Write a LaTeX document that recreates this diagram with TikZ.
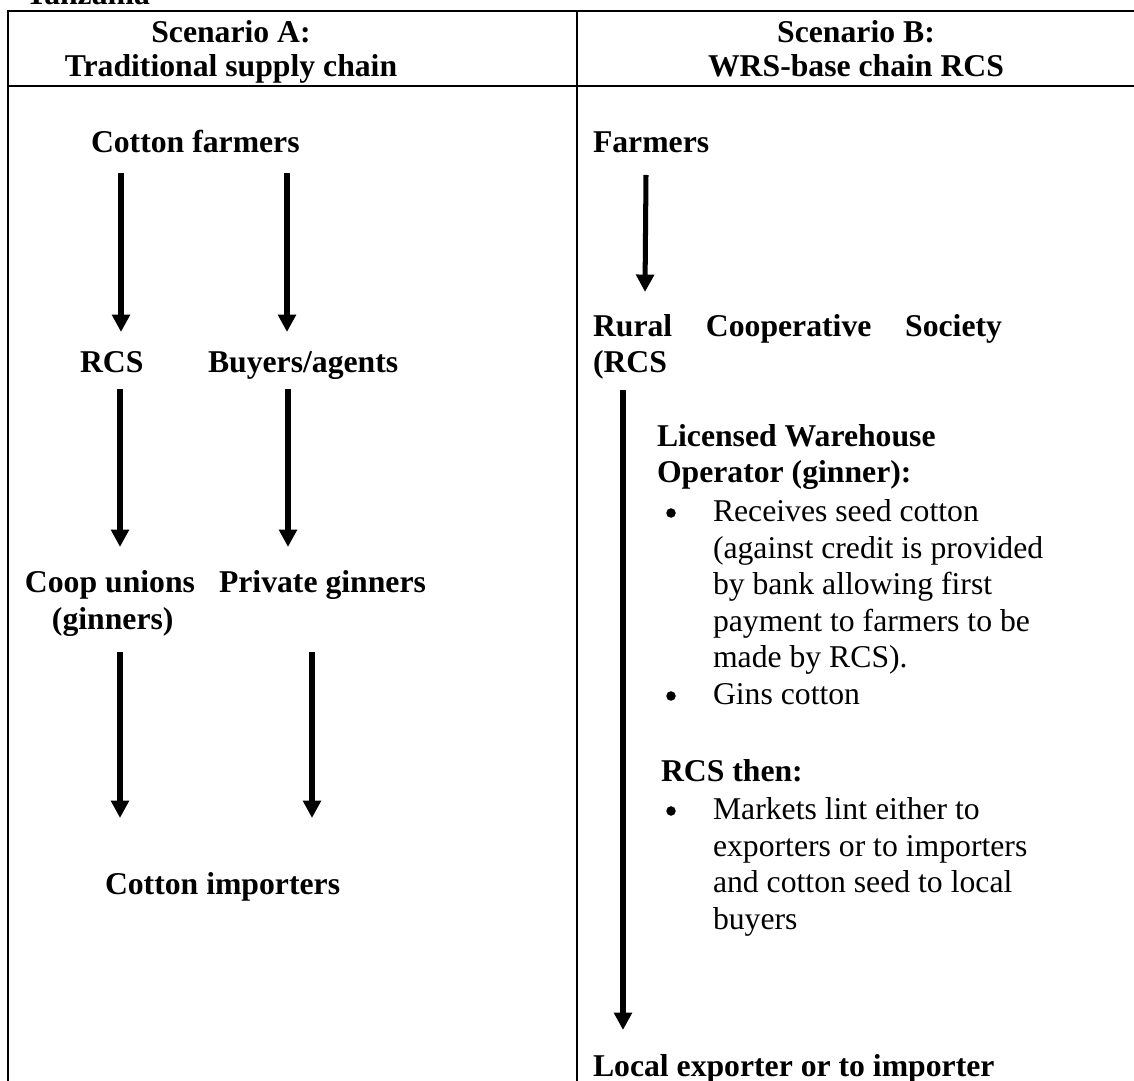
\documentclass[tikz,border=0pt]{standalone}
\usepackage{fontspec}
\setmainfont{Liberation Serif}
\usetikzlibrary{arrows.meta}
\newdimen\pxu \pxu=0.3785pt
\newcommand{\twelve}{\fontsize{12}{13.9}\selectfont}

\tikzset{
  tabrule/.style={line width=0.9pt},
  flow/.style={line width=1.9pt, -{Triangle[width=6.6pt,length=6.6pt]}},
  lbl/.style={font=\twelve\bfseries, anchor=base west, inner sep=0pt, outer sep=0pt},
  hdr/.style={font=\twelve\bfseries, anchor=base, inner sep=0pt, outer sep=0pt},
  body/.style={font=\twelve, anchor=base west, inner sep=0pt, outer sep=0pt},
  dot/.style={circle, fill=black, minimum size=3.6pt, inner sep=0pt, outer sep=0pt}
}

\begin{document}
\begin{tikzpicture}[x=0.3785pt, y=-0.3785pt]
            \useasboundingbox (0,0) rectangle (1134,1081);
            \clip (0,0) rectangle (1134,1081);

            % Table
            \draw[tabrule] (8,1081) -- (8,11) -- (1134,11);
            \draw[tabrule] (8,86) -- (1134,86);
            \draw[tabrule] (577,11) -- (577,1081);

            % Headings
            \node (tz) at (26,5) [lbl] {Tanzania};
            \node (scA) at (231,43) [hdr] {Scenario A:};
            \node (scAt) at (231,77) [hdr] {Traditional supply chain};
            \node (scB) at (856,43) [hdr] {Scenario B:};
            \node (scBt) at (856,77) [hdr] {WRS-base chain RCS};

            % Scenario A
            \node (cfarm) at (91,153) [lbl] {Cotton farmers};
            \node (rcsA) at (80,373) [lbl] {RCS};
            \node (buy) at (208,373) [lbl] {Buyers/agents};
            \node (coop) at (25,593) [lbl] {Coop unions};
            \node (coopg) at (52,630) [lbl] {(ginners)};
            \node (priv) at (219,593) [lbl] {Private ginners};
            \node (cimp) at (105,895) [lbl] {Cotton importers};

            % Scenario B
            \node (farm) at (593,153) [lbl] {Farmers};
            \node (rural) at (593,337) [lbl] {\makebox[409\pxu][s]{Rural Cooperative Society}};
            \node (ruralr) at (593,373) [lbl] {(RCS};
            \node (lwo) at (657,447) [lbl] {Licensed Warehouse};
            \node (lwoop) at (657,483) [lbl] {Operator (ginner):};
            \node (b1) at (671,513) [dot] {};
            \node (recv1) at (713,522) [body] {Receives seed cotton};
            \node (recv2) at (713,559) [body] {(against credit is provided};
            \node (recv3) at (713,595) [body] {by bank allowing first};
            \node (recv4) at (713,632) [body] {payment to farmers to be};
            \node (recv5) at (713,668) [body] {made by RCS).};
            \node (b2) at (671,696) [dot] {};
            \node (gins) at (713,705) [body] {Gins cotton};
            \node (then) at (661,782) [lbl] {RCS then:};
            \node (b3) at (671,811) [dot] {};
            \node (mkt1) at (713,820) [body] {Markets lint either to};
            \node (mkt2) at (713,857) [body] {exporters or to importers};
            \node (mkt3) at (713,893) [body] {and cotton seed to local};
            \node (mkt4) at (713,930) [body] {buyers};
            \node (lexp) at (593,1076) [lbl] {Local exporter or to importer};

            % Arrow ends
            \coordinate (a1s) at (121,173); \coordinate (a1e) at (121,332);
            \coordinate (a2s) at (287,173); \coordinate (a2e) at (287,332);
            \coordinate (a3s) at (120,389); \coordinate (a3e) at (120,547);
            \coordinate (a4s) at (288,389); \coordinate (a4e) at (288,547);
            \coordinate (a5s) at (120,652); \coordinate (a5e) at (120,818);
            \coordinate (a6s) at (312,652); \coordinate (a6e) at (312,818);
            \coordinate (b1s) at (646,175); \coordinate (b1e) at (645,292);
            \coordinate (b2s) at (623,390); \coordinate (b2e) at (623,1030);

            % Arrows
            \draw[flow] (a1s) -- (a1e);
            \draw[flow] (a2s) -- (a2e);
            \draw[flow] (a3s) -- (a3e);
            \draw[flow] (a4s) -- (a4e);
            \draw[flow] (a5s) -- (a5e);
            \draw[flow] (a6s) -- (a6e);
            \draw[flow] (b1s) -- (b1e);
            \draw[flow] (b2s) -- (b2e);
        \end{tikzpicture}
\end{document}
